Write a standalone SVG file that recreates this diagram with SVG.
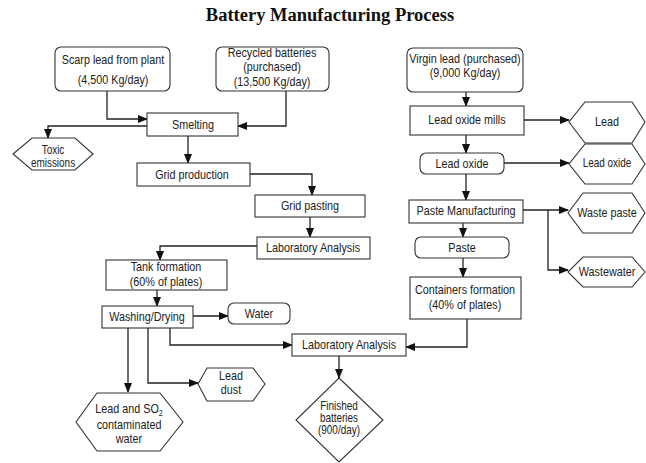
<svg xmlns="http://www.w3.org/2000/svg" width="646" height="463" viewBox="0 0 646 463">
<style>
.title{font-family:"Liberation Serif","Times New Roman",serif;font-weight:bold;font-size:18.5px;fill:#111;text-anchor:middle}
.t{font-family:"Liberation Sans",Arial,sans-serif;font-size:13px;fill:#222;text-anchor:middle}
.s{font-size:12px}
.b{fill:#fff;stroke:#333;stroke-width:1.1}
.c{fill:none;stroke:#222;stroke-width:1.3}
</style>
<defs>
<marker id="ah" markerUnits="userSpaceOnUse" markerWidth="10" markerHeight="8" refX="9" refY="4" orient="auto">
<path d="M0,0 L10,4 L0,8 Z" fill="#111"/>
</marker>
</defs>
<rect width="646" height="463" fill="#fff"/>
<text class="title" x="330" y="21">Battery Manufacturing Process</text>

<g id="connectors">
<path class="c" marker-end="url(#ah)" d="M107,91 V119 H147"/>
<path class="c" marker-end="url(#ah)" d="M286,91 V126 H238"/>
<path class="c" marker-end="url(#ah)" d="M147,126 H48 V138"/>
<path class="c" marker-end="url(#ah)" d="M188,136 V163"/>
<path class="c" marker-end="url(#ah)" d="M250,174 H312 V195"/>
<path class="c" marker-end="url(#ah)" d="M310,217 V237"/>
<path class="c" marker-end="url(#ah)" d="M257,246 H160 V260"/>
<path class="c" marker-end="url(#ah)" d="M157,290 V306"/>
<path class="c" marker-end="url(#ah)" d="M193,316 H228"/>
<path class="c" marker-end="url(#ah)" d="M128,328 V392"/>
<path class="c" marker-end="url(#ah)" d="M148,328 V383 H198"/>
<path class="c" marker-end="url(#ah)" d="M170,328 V345 H292"/>
<path class="c" marker-end="url(#ah)" d="M339,356 V378"/>
<path class="c" marker-end="url(#ah)" d="M466,92 V106"/>
<path class="c" marker-end="url(#ah)" d="M524,120 H569"/>
<path class="c" marker-end="url(#ah)" d="M466,135 V153"/>
<path class="c" marker-end="url(#ah)" d="M504,163 H569"/>
<path class="c" marker-end="url(#ah)" d="M466,174 V200"/>
<path class="c" marker-end="url(#ah)" d="M523,210 H568"/>
<path class="c" marker-end="url(#ah)" d="M548,210 V270 H568"/>
<path class="c" marker-end="url(#ah)" d="M463,223 V237"/>
<path class="c" marker-end="url(#ah)" d="M463,258 V277"/>
<path class="c" marker-end="url(#ah)" d="M467,319 V347 H406"/>
</g>

<g id="scarp">
<rect class="b" x="55" y="47" width="115" height="44" rx="6"/>
<text class="t" transform="translate(113,64) scale(0.83,1)">Scarp lead from plant</text>
<text class="t" transform="translate(113,84) scale(0.83,1)">(4,500 Kg/day)</text>
</g>
<g id="recycled">
<rect class="b" x="216" y="47" width="113" height="44" rx="6"/>
<text class="t" transform="translate(272,57) scale(0.83,1)">Recycled batteries</text>
<text class="t" transform="translate(272,71) scale(0.83,1)">(purchased)</text>
<text class="t" transform="translate(272,86) scale(0.83,1)">(13,500 Kg/day)</text>
</g>
<g id="smelting">
<rect class="b" x="147" y="113" width="91" height="23"/>
<text class="t" transform="translate(193,129) scale(0.83,1)">Smelting</text>
</g>
<g id="toxic">
<polygon class="b" points="32,138 75,138 93,154 75,170 32,170 13,154"/>
<text class="t s" transform="translate(53,154) scale(0.83,1)">Toxic</text>
<text class="t s" transform="translate(53,167) scale(0.83,1)">emissions</text>
</g>
<g id="gridprod">
<rect class="b" x="137" y="163" width="113" height="23"/>
<text class="t" transform="translate(192,179) scale(0.83,1)">Grid production</text>
</g>
<g id="gridpaste">
<rect class="b" x="255" y="195" width="110" height="22"/>
<text class="t" transform="translate(310,210) scale(0.83,1)">Grid pasting</text>
</g>
<g id="lab1">
<rect class="b" x="257" y="237" width="113" height="22"/>
<text class="t" transform="translate(313,252) scale(0.83,1)">Laboratory Analysis</text>
</g>
<g id="tank">
<rect class="b" x="106" y="260" width="121" height="30"/>
<text class="t" transform="translate(166,271) scale(0.83,1)">Tank formation</text>
<text class="t" transform="translate(166,285.5) scale(0.83,1)">(60% of plates)</text>
</g>
<g id="washing">
<rect class="b" x="102" y="306" width="91" height="22"/>
<text class="t" transform="translate(147,321) scale(0.83,1)">Washing/Drying</text>
</g>
<g id="water">
<rect class="b" x="228" y="303" width="62" height="21" rx="6"/>
<text class="t" transform="translate(259,318) scale(0.83,1)">Water</text>
</g>
<g id="leaddust">
<polygon class="b" points="207,368 253,368 265,384 253,401 207,401 198,384"/>
<text class="t" transform="translate(231,380) scale(0.83,1)">Lead</text>
<text class="t" transform="translate(231,394) scale(0.83,1)">dust</text>
</g>
<g id="leadso2">
<polygon class="b" points="97,393 160,393 183,422 160,451 97,451 76,422"/>
<text class="t" transform="translate(129,413) scale(0.83,1)">Lead and SO<tspan font-size="8.5" dy="2.5">2</tspan></text>
<text class="t" transform="translate(129,429) scale(0.83,1)">contaminated</text>
<text class="t" transform="translate(129,443) scale(0.83,1)">water</text>
</g>
<g id="lab2">
<rect class="b" x="292" y="334" width="114" height="22"/>
<text class="t" transform="translate(349,349) scale(0.83,1)">Laboratory Analysis</text>
</g>
<g id="finished">
<polygon class="b" points="339,378 383,420 339,462 296,420"/>
<text class="t s" transform="translate(339,410) scale(0.83,1)">Finished</text>
<text class="t s" transform="translate(339,422) scale(0.83,1)">batteries</text>
<text class="t s" transform="translate(339,434) scale(0.83,1)">(900/day)</text>
</g>
<g id="virgin">
<rect class="b" x="407" y="48" width="116" height="44" rx="6"/>
<text class="t" transform="translate(465,63) scale(0.83,1)">Virgin lead (purchased)</text>
<text class="t" transform="translate(465,77) scale(0.83,1)">(9,000 Kg/day)</text>
</g>
<g id="mills">
<rect class="b" x="410" y="106" width="114" height="29"/>
<text class="t" transform="translate(467,124) scale(0.83,1)">Lead oxide mills</text>
</g>
<g id="lead">
<polygon class="b" points="585,102 632,102 645,122 632,143 585,143 569,122"/>
<text class="t" transform="translate(607,126) scale(0.83,1)">Lead</text>
</g>
<g id="leadoxide">
<rect class="b" x="420" y="153" width="84" height="21" rx="6"/>
<text class="t" transform="translate(462,168) scale(0.83,1)">Lead oxide</text>
</g>
<g id="leadoxidehex">
<polygon class="b" points="585,144 632,144 645,164 632,184 585,184 569,164"/>
<text class="t s" transform="translate(607,167) scale(0.83,1)">Lead oxide</text>
</g>
<g id="pastemfg">
<rect class="b" x="409" y="200" width="114" height="23"/>
<text class="t" transform="translate(466,215) scale(0.83,1)">Paste Manufacturing</text>
</g>
<g id="wastepaste">
<polygon class="b" points="583,193 632,193 645,213 632,233 583,233 568,213"/>
<text class="t" transform="translate(607,217) scale(0.83,1)">Waste paste</text>
</g>
<g id="wastewater">
<polygon class="b" points="583,257 632,257 645,272 632,287 583,287 568,272"/>
<text class="t" transform="translate(607,276) scale(0.83,1)">Wastewater</text>
</g>
<g id="paste">
<rect class="b" x="415" y="237" width="94" height="21" rx="6"/>
<text class="t" transform="translate(462,252) scale(0.83,1)">Paste</text>
</g>
<g id="containers">
<rect class="b" x="410" y="277" width="111" height="42"/>
<text class="t" transform="translate(465,294) scale(0.83,1)">Containers formation</text>
<text class="t" transform="translate(465,309) scale(0.83,1)">(40% of plates)</text>
</g>
</svg>
